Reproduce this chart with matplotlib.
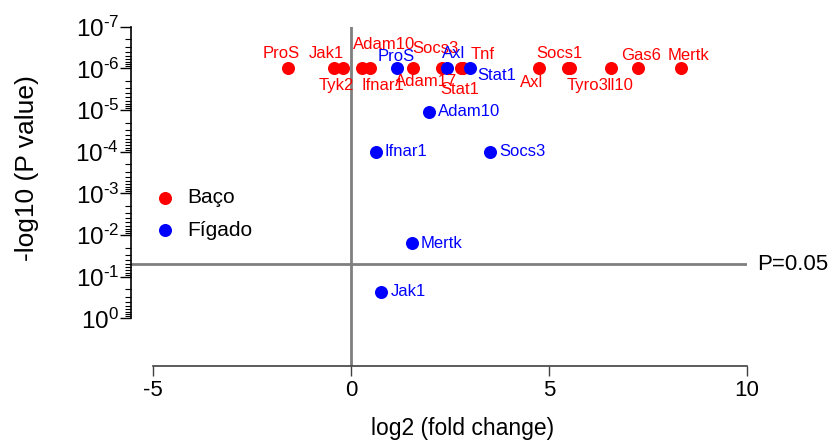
import matplotlib
matplotlib.use('Agg')
import matplotlib.pyplot as plt
from matplotlib.ticker import FixedLocator, FuncFormatter
import numpy as np

# ---------------- data ----------------
baco_genes = ['ProS', 'Jak1', 'Tyk2', 'Ifnar1', 'Adam10', 'Adam17', 'Socs3', 'Stat1',
              'Tnf', 'Axl', 'Socs1', 'Tyro3', 'Il10', 'Gas6', 'Mertk']
baco_log2fc = [-1.60, -0.44, -0.21, 0.28, 0.49, 1.56, 2.30, 2.78,
               2.84, 4.74, 5.48, 5.52, 6.57, 7.25, 8.33]
baco_p = [1e-6] * 15

figado_genes = ['ProS', 'Axl', 'Stat1', 'Adam10', 'Ifnar1', 'Socs3', 'Mertk', 'Jak1']
figado_log2fc = [1.15, 2.43, 3.00, 1.96, 0.63, 3.52, 1.54, 0.77]
figado_p = [1e-6, 1e-6, 1e-6, 1.1e-5, 1e-4, 1e-4, 0.016, 0.23]

x_ticks = [-5, 0, 5, 10]
y_tick_exponents = [-7, -6, -5, -4, -3, -2, -1, 0]
p_threshold = 0.05
series_names = ['Baço', 'Fígado']

# ---------------- style ----------------
plt.rcParams['font.family'] = ['Liberation Sans', 'DejaVu Sans']
plt.rcParams['mathtext.fontset'] = 'custom'
plt.rcParams['mathtext.rm'] = 'Liberation Sans'
plt.rcParams['mathtext.it'] = 'Liberation Sans'
plt.rcParams['axes.unicode_minus'] = False

RED = '#ff0000'
BLUE = '#0000ff'
GREY = '#7f7f7f'

# label offsets in pixels (dx, dy, ha)
baco_offsets = {
    'ProS': (-6, 15, 'center'), 'Jak1': (-7, 15, 'center'), 'Tyk2': (-6, -17, 'center'),
    'Ifnar1': (21, -17, 'center'), 'Adam10': (14, 24, 'center'), 'Adam17': (13, -13, 'center'),
    'Socs3': (-7, 20, 'center'), 'Stat1': (-1, -21, 'center'), 'Tnf': (19, 14, 'center'),
    'Axl': (-7, -14, 'center'), 'Socs1': (-9, 15, 'center'), 'Tyro3': (18, -17, 'center'),
    'Il10': (9, -17, 'center'), 'Gas6': (3, 13, 'center'), 'Mertk': (8, 13, 'center'),
}
figado_offsets = {
    'ProS': (0, 12, 'center'), 'Axl': (6, 15, 'center'), 'Stat1': (7, -7, 'left'),
}


def decade_label(v, pos):
    e = int(round(np.log10(v)))
    if e < 0:
        return r'$10^{\text{-}%d}$' % (-e)
    return r'$10^{%d}$' % e


W, H = 833, 441
fig = plt.figure(figsize=(W / 100, H / 100), dpi=100)
L, R, T, B = 131, 747, 26.7, 366
ax = fig.add_axes([L / W, 1 - B / H, (R - L) / W, (B - T) / H])
ax.set_yscale('log')
ax.set_xlim(-5.555, 10)
ax.set_ylim(10 ** 1.145, 1e-7)

for s in ['top', 'right']:
    ax.spines[s].set_visible(False)
ax.spines['left'].set_bounds(10.0 ** y_tick_exponents[0], 10.0 ** y_tick_exponents[-1])
ax.spines['left'].set_linewidth(1.2)
ax.spines['left'].set_color('black')
ax.spines['bottom'].set_bounds(x_ticks[0], x_ticks[-1])
ax.spines['bottom'].set_linewidth(1.2)
ax.spines['bottom'].set_color('#404040')

# reference lines
ax.axvline(0, color=GREY, lw=2.0, zorder=1)
ax.axhline(p_threshold, color=GREY, lw=2.0, zorder=1)
ax.annotate('P=%g' % p_threshold, xy=(x_ticks[-1], p_threshold), xytext=(10, 0),
            textcoords='offset pixels', ha='left', va='center', fontsize=16,
            annotation_clip=False)

# points
sc1 = ax.scatter(baco_log2fc, baco_p, s=88, c=RED, linewidths=0, zorder=3, label=series_names[0])
sc2 = ax.scatter(figado_log2fc, figado_p, s=88, c=BLUE, linewidths=0, zorder=4, label=series_names[1])

for g, x, p in zip(baco_genes, baco_log2fc, baco_p):
    dx, dy, ha = baco_offsets.get(g, (9, 0, 'left'))
    ax.annotate(g, xy=(x, p), xytext=(dx, dy), textcoords='offset pixels',
                ha=ha, va='center', fontsize=12, color=RED, zorder=5)
for g, x, p in zip(figado_genes, figado_log2fc, figado_p):
    dx, dy, ha = figado_offsets.get(g, (9, 0, 'left'))
    ax.annotate(g, xy=(x, p), xytext=(dx, dy), textcoords='offset pixels',
                ha=ha, va='center', fontsize=12, color=BLUE, zorder=5)

# ticks
ax.xaxis.set_major_locator(FixedLocator(x_ticks))
ax.xaxis.set_major_formatter(FuncFormatter(lambda v, pos: '%d' % v))
ax.tick_params(axis='x', direction='out', length=7, width=1.0, color='#404040',
               labelsize=16, pad=3)

ax.yaxis.set_major_locator(FixedLocator([10.0 ** e for e in y_tick_exponents]))
ax.yaxis.set_minor_locator(FixedLocator([m * 10.0 ** e for e in y_tick_exponents[:-1]
                                         for m in range(2, 10)]))
ax.yaxis.set_major_formatter(FuncFormatter(decade_label))
ax.yaxis.set_minor_formatter(FuncFormatter(lambda v, pos: ''))
ax.tick_params(axis='y', which='major', direction='out', length=8, width=1.0,
               labelsize=17.5, pad=0.5)
ax.tick_params(axis='y', which='minor', direction='out', length=4, width=0.8)

ax.set_ylabel('-log10 (P value)', fontsize=19)
ax.yaxis.set_label_coords(-0.149, 0.584)
ax.set_xlabel('log2 (fold change)', fontsize=16.5)
ax.xaxis.set_label_coords(0.539, -0.150)

ax.legend(handles=[sc1, sc2], loc='upper left', bbox_to_anchor=(146 / W, 1 - 180 / H),
          bbox_transform=fig.transFigure, frameon=False, fontsize=15,
          handlelength=1.0, handletextpad=0.6, labelspacing=0.65, borderpad=0.4,
          borderaxespad=0, scatterpoints=1)

fig.savefig('out.png', dpi=100)
